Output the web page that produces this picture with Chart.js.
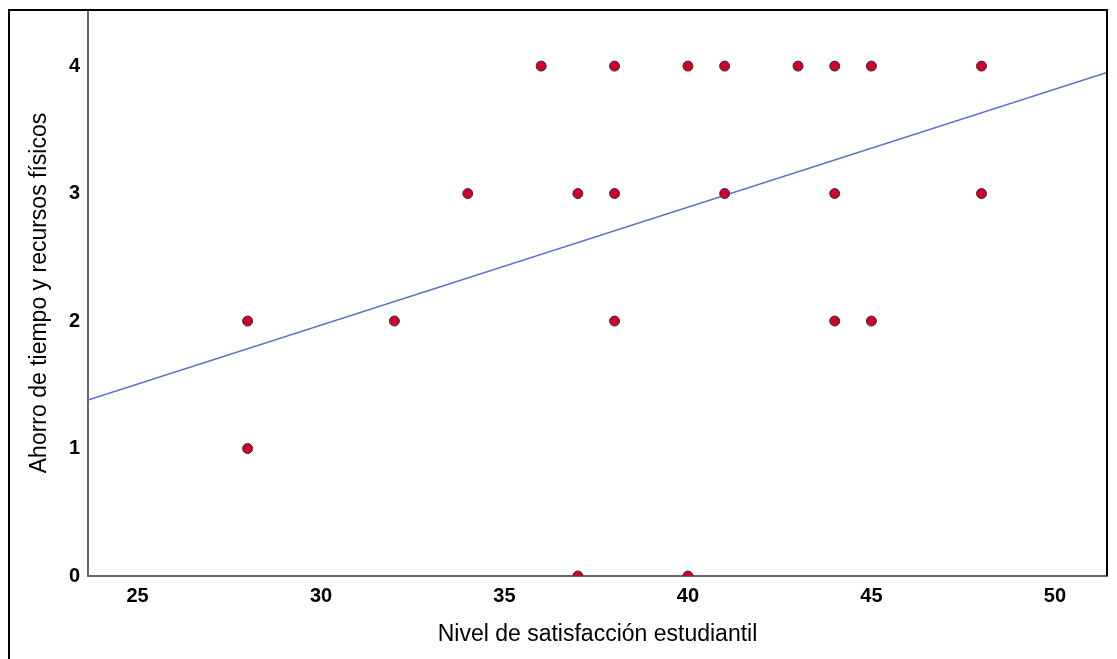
<!DOCTYPE html>
<html>
<head>
<meta charset="utf-8">
<script src="https://cdn.jsdelivr.net/npm/chart.js@4"></script>
<style>
  html, body { margin: 0; padding: 0; background: #fff; }
  #wrap { position: absolute; left: 0; top: 0; width: 1117px; height: 659px; }
</style>
</head>
<body>
<div id="wrap"><canvas id="scatterChart"></canvas></div>
<script>
// satisfaction level vs. time/resources saving
const satisfaction = [28, 28, 32, 34, 36, 37, 37, 38, 38, 38, 40, 40, 41, 41, 43, 44, 44, 44, 45, 45, 48, 48];
const savings      = [2, 1, 2, 3, 4, 3, 0, 4, 3, 2, 4, 0, 4, 3, 4, 4, 3, 2, 4, 2, 4, 3];
// fit line, read at the edges of the plot
const fitX = [23.65, 51.42];
const fitY = [1.38, 3.95];
const xTicks = [25, 30, 35, 40, 45, 50];
const yTicks = [0, 1, 2, 3, 4];

const points = satisfaction.map((x, i) => ({ x, y: savings[i] }));
const fitLine = fitX.map((x, i) => ({ x, y: fitY[i] }));

// outer black frame like the exported image
const framePlugin = {
  id: 'frame',
  afterDraw(chart) {
    const ctx = chart.ctx;
    const a = chart.chartArea;
    ctx.save();
    ctx.strokeStyle = '#000';
    ctx.lineWidth = 2;
    ctx.beginPath();
    ctx.moveTo(9, chart.height);
    ctx.lineTo(9, a.top);
    ctx.lineTo(a.right, a.top);
    ctx.lineTo(a.right, a.bottom);
    ctx.stroke();
    ctx.restore();
  }
};

new Chart(document.getElementById('scatterChart'), {
  type: 'scatter',
  data: {
    datasets: [
      {
        label: 'Datos',
        data: points,
        backgroundColor: '#d0002a',
        borderColor: '#333',
        borderWidth: 1,
        pointRadius: 5,
        order: 1
      },
      {
        label: 'Ajuste',
        type: 'line',
        data: fitLine,
        borderColor: '#5a72c4',
        borderWidth: 1.5,
        pointRadius: 0,
        fill: false,
        order: 2
      }
    ]
  },
  options: {
    responsive: true,
    maintainAspectRatio: false,
    animation: false,
    layout: { padding: { top: 10, right: 10, left: 0, bottom: 0 } },
    plugins: {
      legend: { display: false },
      tooltip: { enabled: false }
    },
    scales: {
      x: {
        type: 'linear',
        min: fitX[0],
        max: fitX[1],
        afterBuildTicks: axis => { axis.ticks = xTicks.map(v => ({ value: v })); },
        afterFit: axis => { axis.height = 83; axis.paddingLeft = 0; axis.paddingRight = 0; },
        grid: { display: false, drawTicks: false },
        border: { color: '#666', width: 2 },
        ticks: { color: '#000', padding: 8, font: { family: 'Liberation Sans, Arial', size: 20, weight: 'bold' } },
        title: {
          display: true,
          text: 'Nivel de satisfacción estudiantil',
          color: '#000',
          padding: { bottom: 11 },
          font: { family: 'Liberation Sans, Arial', size: 23 }
        }
      },
      y: {
        type: 'linear',
        min: 0,
        max: 4.44,
        afterBuildTicks: axis => { axis.ticks = yTicks.map(v => ({ value: v })); },
        afterFit: axis => { axis.width = 88; axis.paddingTop = 0; axis.paddingBottom = 0; },
        grid: { display: false, drawTicks: false },
        border: { color: '#666', width: 2 },
        ticks: { color: '#000', padding: 8, font: { family: 'Liberation Sans, Arial', size: 20, weight: 'bold' } },
        title: {
          display: true,
          text: 'Ahorro de tiempo y recursos físicos',
          color: '#000',
          padding: { top: 26 },
          font: { family: 'Liberation Sans, Arial', size: 23 }
        }
      }
    }
  },
  plugins: [framePlugin]
});
</script>
</body>
</html>
